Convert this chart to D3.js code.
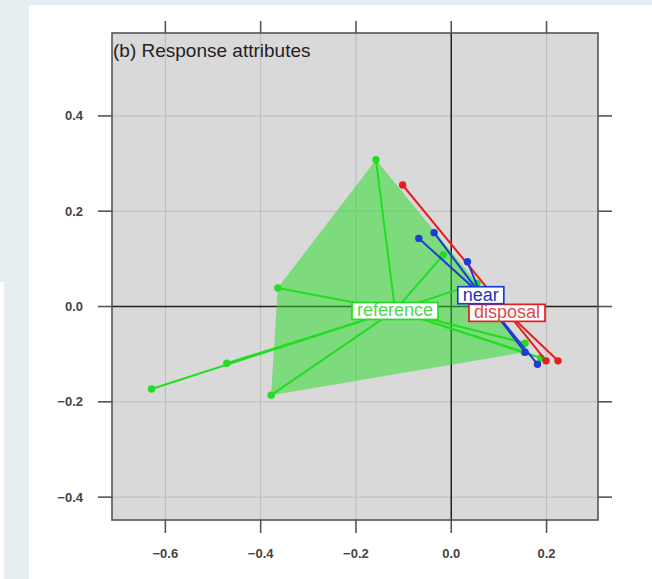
<!DOCTYPE html>
<html>
<head>
<meta charset="utf-8">
<script src="https://cdn.jsdelivr.net/npm/d3@7"></script>
<style>
    body { margin: 0; background: #e6eef2; font-family: "Liberation Sans", Arial, sans-serif; }
    svg { display: block; }
</style>
</head>
<body>
<svg id="chart" width="652" height="579"></svg>
<script>
// points (x, y)
let refPts = [[-0.158, 0.308], [-0.364, 0.039], [-0.017, 0.108], [-0.629, -0.173], [-0.471, -0.119],
    [-0.378, -0.186], [0.155, -0.077], [0.188, -0.108], [0.054, 0.049], [0.153, -0.096]];
let nearPts = [[-0.068, 0.143], [-0.036, 0.155], [0.034, 0.094], [0.155, -0.096], [0.181, -0.121]];
let dispPts = [[-0.102, 0.255], [0.199, -0.114], [0.224, -0.114]];

// group centres (where the labels sit)
let refCentre = [-0.118, -0.008];
let nearCentre = [0.062, 0.025];
let dispCentre = [0.117, -0.012];

// outline of the shaded reference region
let refHull = [[-0.158, 0.308], [0.054, 0.049], [0.153, -0.096], [-0.378, -0.186], [-0.364, 0.039]];

let xTicks = [-0.6, -0.4, -0.2, 0.0, 0.2];
let yTicks = [-0.4, -0.2, 0.0, 0.2, 0.4];
let title = "(b) Response attributes";

let groups = [
    {name: "reference", pts: refPts, centre: refCentre, col: "#22dd22", text: "#4ed84e"},
    {name: "disposal", pts: dispPts, centre: dispCentre, col: "#e81c1c", text: "#e04848"},
    {name: "near", pts: nearPts, centre: nearCentre, col: "#1c3cd2", text: "#2232b4"}
];

let svg = d3.select("#chart");

// page furniture from the screenshot
svg.append("rect").attr("x", 29).attr("y", 5).attr("width", 623).attr("height", 574).attr("fill", "#fff");
svg.append("rect").attr("x", 0).attr("y", 282).attr("width", 4).attr("height", 297).attr("fill", "#fff");

let pLeft = 112, pRight = 598, pTop = 33, pBottom = 520;
let x = d3.scaleLinear().domain([-0.712, 0.308]).range([pLeft, pRight]);
let y = d3.scaleLinear().domain([-0.448, 0.574]).range([pBottom, pTop]);

svg.append("rect")
    .attr("x", pLeft).attr("y", pTop)
    .attr("width", pRight - pLeft).attr("height", pBottom - pTop)
    .attr("fill", "#d9d9d9");

let fmt = d3.format(".1f");

// grid
let grid = svg.append("g");
grid.selectAll("line.gx").data(xTicks.filter(d => d !== 0)).enter()
    .append("line").attr("class", "gx")
    .attr("x1", d => x(d)).attr("x2", d => x(d))
    .attr("y1", pTop).attr("y2", pBottom)
    .attr("stroke", "#bcbcbc").attr("stroke-width", 1);
grid.selectAll("line.gy").data(yTicks.filter(d => d !== 0)).enter()
    .append("line").attr("class", "gy")
    .attr("x1", pLeft).attr("x2", pRight)
    .attr("y1", d => y(d)).attr("y2", d => y(d))
    .attr("stroke", "#bcbcbc").attr("stroke-width", 1);

// zero lines
svg.append("line").attr("x1", x(0)).attr("x2", x(0)).attr("y1", pTop).attr("y2", pBottom)
    .attr("stroke", "#222").attr("stroke-width", 1.5);
svg.append("line").attr("x1", pLeft).attr("x2", pRight).attr("y1", y(0)).attr("y2", y(0))
    .attr("stroke", "#222").attr("stroke-width", 1.5);

// shaded region
svg.append("path")
    .datum(refHull)
    .attr("d", d3.line().x(d => x(d[0])).y(d => y(d[1])).curve(d3.curveLinearClosed))
    .attr("fill", "#22dd22")
    .attr("fill-opacity", 0.5);

// spiders
groups.forEach(function (g) {
    let gg = svg.append("g");
    gg.selectAll("line").data(g.pts).enter()
        .append("line")
        .attr("x1", x(g.centre[0])).attr("y1", y(g.centre[1]))
        .attr("x2", d => x(d[0])).attr("y2", d => y(d[1]))
        .attr("stroke", g.col).attr("stroke-width", 2);
    gg.selectAll("circle").data(g.pts).enter()
        .append("circle")
        .attr("cx", d => x(d[0])).attr("cy", d => y(d[1]))
        .attr("r", 3.7)
        .attr("fill", g.col);
});

// labels with boxes
groups.forEach(function (g) {
    let lg = svg.append("g");
    let t = lg.append("text")
        .attr("x", x(g.centre[0])).attr("y", y(g.centre[1]))
        .attr("text-anchor", "middle")
        .attr("dy", "0.34em")
        .attr("font-size", 18)
        .attr("fill", g.text)
        .text(g.name);
    let bb = t.node().getBBox();
    lg.insert("rect", "text")
        .attr("x", bb.x - 5).attr("y", bb.y + 2)
        .attr("width", bb.width + 10).attr("height", bb.height - 3)
        .attr("fill", "#fff")
        .attr("stroke", g.col).attr("stroke-width", 1.7);
});

// frame
svg.append("rect")
    .attr("x", pLeft).attr("y", pTop)
    .attr("width", pRight - pLeft).attr("height", pBottom - pTop)
    .attr("fill", "none").attr("stroke", "#555").attr("stroke-width", 1.6);

// ticks on all four sides
let tk = svg.append("g").attr("stroke", "#555").attr("stroke-width", 1.6);
tk.selectAll("line.tb").data(xTicks).enter().append("line").attr("class", "tb")
    .attr("x1", d => x(d)).attr("x2", d => x(d)).attr("y1", pBottom).attr("y2", pBottom + 13);
tk.selectAll("line.tt").data(xTicks).enter().append("line").attr("class", "tt")
    .attr("x1", d => x(d)).attr("x2", d => x(d)).attr("y1", pTop).attr("y2", pTop - 12);
tk.selectAll("line.tl").data(yTicks).enter().append("line").attr("class", "tl")
    .attr("x1", pLeft - 14).attr("x2", pLeft).attr("y1", d => y(d)).attr("y2", d => y(d));
tk.selectAll("line.tr").data(yTicks).enter().append("line").attr("class", "tr")
    .attr("x1", pRight).attr("x2", pRight + 14).attr("y1", d => y(d)).attr("y2", d => y(d));

svg.selectAll("text.xl").data(xTicks).enter().append("text")
    .attr("class", "xl")
    .attr("x", d => x(d)).attr("y", 558)
    .attr("text-anchor", "middle")
    .attr("font-size", 13).attr("font-weight", "bold").attr("fill", "#444")
    .text(d => fmt(d));
svg.selectAll("text.yl").data(yTicks).enter().append("text")
    .attr("class", "yl")
    .attr("x", 83).attr("y", d => y(d))
    .attr("dy", "0.35em")
    .attr("text-anchor", "end")
    .attr("font-size", 13).attr("font-weight", "bold").attr("fill", "#444")
    .text(d => fmt(d));

svg.append("text")
    .attr("x", 113).attr("y", 56.5)
    .attr("font-size", 19).attr("fill", "#222")
    .text(title);
</script>
</body>
</html>
